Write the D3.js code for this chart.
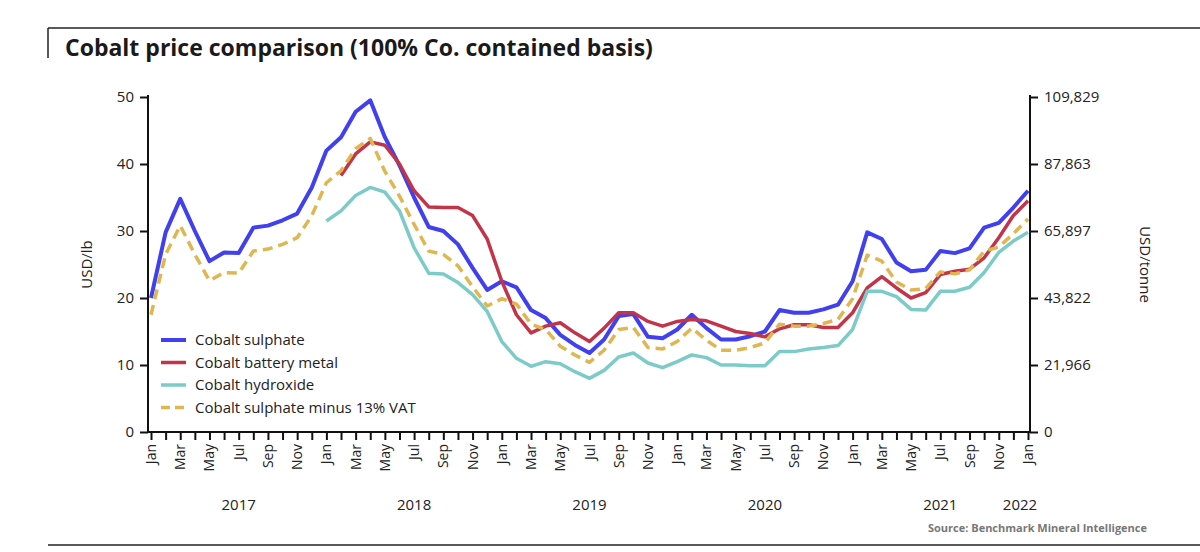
<!DOCTYPE html>
<html><head><meta charset="utf-8">
<script src="https://cdn.jsdelivr.net/npm/d3@7"></script>
<style>body{margin:0;background:#fff;font-family:"Open Sans",sans-serif}</style>
</head><body>
<svg id="chart" width="1200" height="552" font-family="'Open Sans',sans-serif"></svg>
<script>
// monthly, Jan 2017 .. Jan 2022 (USD/lb)
const sulphate = [20,29.8,34.8,30,25.5,26.8,26.7,30.5,30.8,31.6,32.6,36.5,
  42,44,47.8,49.5,44,39.8,35,30.6,30,28,24.5,21.2,
  22.5,21.6,18.2,17,14.5,13,11.8,13.8,17.3,17.6,14.2,14,
  15.3,17.5,15.5,13.8,13.8,14.3,15,18.2,17.8,17.8,18.3,19,
  22.5,29.8,28.8,25.3,24,24.2,27,26.7,27.4,30.5,31.2,33.5,36];
const batteryMetal = [null,null,null,null,null,null,null,null,null,null,null,null,
  null,38.3,41.5,43.3,42.8,40,36,33.6,33.5,33.5,32.3,28.8,
  22.5,17.5,14.8,15.8,16.3,14.8,13.5,15.5,17.8,17.8,16.5,15.8,
  16.5,16.8,16.6,15.8,15,14.7,14.2,15.4,16,16,15.6,15.6,
  17.8,21.5,23.2,21.5,20,20.8,23.5,24,24.3,26,29,32.3,34.5];
const hydroxide = [null,null,null,null,null,null,null,null,null,null,null,null,
  31.5,33,35.3,36.5,35.8,33,27.5,23.7,23.6,22.3,20.5,18,
  13.5,11,9.8,10.5,10.2,9,8,9.2,11.2,11.8,10.3,9.6,
  10.5,11.5,11.1,10,10,9.9,9.9,12,12,12.4,12.6,12.9,
  15.3,21,21,20.2,18.3,18.2,21,21,21.6,23.8,26.8,28.5,29.8];
const sulphateExVat = [17.5,26.5,30.8,26.5,22.6,23.8,23.7,27,27.3,28,29,32.3,
  37.2,39,42.3,43.8,38.9,35.2,31,27,26.5,24.8,21.7,18.8,
  19.9,19.1,16.1,15.3,12.8,11.5,10.4,12.2,15.3,15.6,12.6,12.4,
  13.5,15.5,13.7,12.2,12.2,12.6,13.3,16.1,15.8,15.8,16.2,16.8,
  19.9,26.4,25.5,22.4,21.2,21.4,23.9,23.6,24.2,27,27.6,29.6,31.8];
const monthNames = ["Jan","Feb","Mar","Apr","May","Jun","Jul","Aug","Sep","Oct","Nov","Dec"];
const yearLabels = ["2017","2018","2019","2020","2021","2022"];
const leftTicks = [0,10,20,30,40,50];
const rightTickLabels = ["0","21,966","43,822","65,897","87,863","109,829"];

const series = [
  {name:"Cobalt sulphate", values:sulphate, color:"#4040f0", dash:null, w:4},
  {name:"Cobalt battery metal", values:batteryMetal, color:"#c2344a", dash:null, w:3.5},
  {name:"Cobalt hydroxide", values:hydroxide, color:"#7ccbc8", dash:null, w:3.5},
  {name:"Cobalt sulphate minus 13% VAT", values:sulphateExVat, color:"#e0b650", dash:"10,6", w:3.5}
];

const svg = d3.select("#chart");
const L = 148, R = 1030, T = 97, B = 432;

// frame lines
svg.append("line").attr("x1",48).attr("x2",1200).attr("y1",28).attr("y2",28).attr("stroke","#222").attr("stroke-width",1.5);
svg.append("line").attr("x1",48).attr("x2",48).attr("y1",28).attr("y2",58).attr("stroke","#222").attr("stroke-width",1.5);
svg.append("line").attr("x1",48).attr("x2",1200).attr("y1",545).attr("y2",545).attr("stroke","#222").attr("stroke-width",1.5);

svg.append("text").attr("x",65).attr("y",56).attr("font-size",23).attr("font-weight",700)
  .attr("fill","#1a1a1a").text("Cobalt price comparison (100% Co. contained basis)");

const x = d3.scaleLinear().domain([0, sulphate.length - 1]).range([L + 3, R - 2]);
const y = d3.scaleLinear().domain([0, 50]).range([B, T]);

const gl = svg.append("g").attr("transform",`translate(${L},0)`)
  .call(d3.axisLeft(y).tickValues(leftTicks).tickSize(8).tickPadding(6));
const gr = svg.append("g").attr("transform",`translate(${R},0)`)
  .call(d3.axisRight(y).tickValues(leftTicks).tickSize(8).tickPadding(6)
    .tickFormat((d,i) => rightTickLabels[i]));
const gx = svg.append("g").attr("transform",`translate(0,${B})`)
  .call(d3.axisBottom(x).tickValues(d3.range(sulphate.length)).tickSize(8).tickFormat(""));
[gl,gr,gx].forEach(g => {
  g.selectAll("path,line").attr("stroke","#111").attr("stroke-width",2);
  g.selectAll("text").attr("font-size",15).attr("fill","#222").attr("font-family","'Open Sans',sans-serif");
});
gl.select(".domain").attr("d",`M0,${B}V${T-2}`);
gr.select(".domain").attr("d",`M0,${B}V${T-2}`);
gx.select(".domain").attr("d",`M${L},0H${R}`);

// month labels (rotated) every second month
svg.append("g").selectAll("text").data(d3.range(0, sulphate.length, 2)).join("text")
  .attr("transform", i => `translate(${x(i)+5},${B+12}) rotate(-90)`)
  .attr("text-anchor","end").attr("font-size",14).attr("fill","#222")
  .text(i => monthNames[i % 12]);
svg.append("g").selectAll("text").data(yearLabels).join("text")
  .attr("x",(d,i) => i < 5 ? x(i*12 + 6) : x(60) - 8).attr("y",510)
  .attr("text-anchor","middle").attr("font-size",15).attr("fill","#222").text(d => d);

svg.append("text").attr("transform",`translate(92,${(T+B)/2}) rotate(-90)`)
  .attr("text-anchor","middle").attr("font-size",15).attr("fill","#222").text("USD/lb");
svg.append("text").attr("transform",`translate(1140,${(T+B)/2}) rotate(90)`)
  .attr("text-anchor","middle").attr("font-size",15).attr("fill","#222").text("USD/tonne");

const line = d3.line().defined(d => d != null).x((d,i) => x(i)).y(d => y(d));
svg.append("g").selectAll("path").data(series).join("path")
  .attr("d", s => line(s.values)).attr("fill","none")
  .attr("stroke", s => s.color).attr("stroke-width", s => s.w)
  .attr("stroke-dasharray", s => s.dash).attr("stroke-linejoin","round");

const lg = svg.append("g").attr("transform","translate(160,340)");
series.forEach((s,i) => {
  const g = lg.append("g").attr("transform",`translate(0,${i*22.5})`);
  g.append("line").attr("x1",1).attr("x2",26).attr("stroke",s.color).attr("stroke-width",s.w)
    .attr("stroke-dasharray", s.dash ? "9,5" : null);
  g.append("text").attr("x",35).attr("y",5).attr("font-size",15).attr("fill","#222").text(s.name);
});

svg.append("text").attr("x",1147).attr("y",532).attr("text-anchor","end")
  .attr("font-size",11).attr("font-weight",700).attr("fill","#777").text("Source: Benchmark Mineral Intelligence");
</script>
</body></html>
